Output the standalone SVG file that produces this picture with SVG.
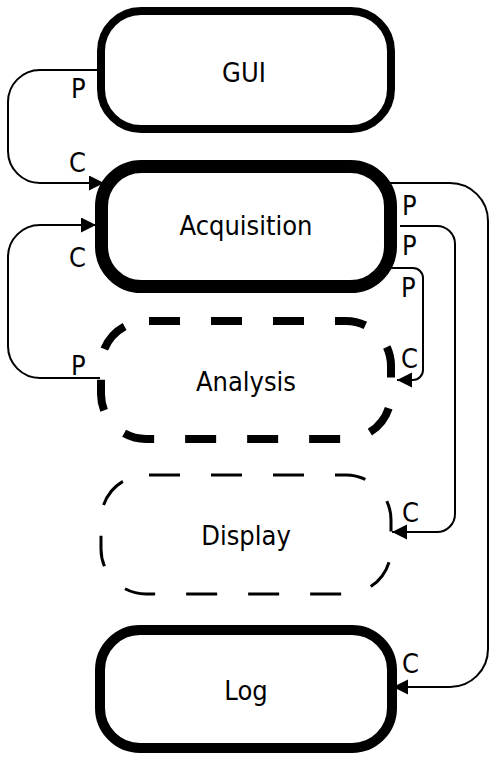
<svg xmlns="http://www.w3.org/2000/svg" width="498" height="760" viewBox="0 0 498 760">
<style>
.node{fill:#fff;stroke:#000}
.lbl{font-family:"DejaVu Sans Condensed","DejaVu Sans",Verdana,sans-serif;font-stretch:condensed;font-size:27px;fill:#000}
.ntext{font-family:"DejaVu Sans Condensed","DejaVu Sans",Verdana,sans-serif;font-stretch:condensed;font-size:27px;fill:#000;text-anchor:middle}
.conn{fill:none;stroke:#000;stroke-width:2}
</style>
<defs>
<marker id="arr" markerUnits="userSpaceOnUse" markerWidth="16" markerHeight="16" refX="15" refY="7.5" orient="auto">
<path d="M0,0 L15,7.5 L0,15 z" fill="#000"/>
</marker>
</defs>
<rect width="498" height="760" fill="#fff"/>
<g id="GUI">
<rect class="node" x="101" y="11" width="290" height="118" rx="40" ry="40" stroke-width="8"/>
<text class="ntext" x="244" y="82">GUI</text>
</g>
<g id="Acquisition">
<rect class="node" x="101.5" y="166.5" width="289" height="120" rx="40" ry="40" stroke-width="13"/>
<text class="ntext" x="246" y="235">Acquisition</text>
</g>
<g id="Analysis">
<rect class="node" x="101" y="321" width="290" height="118" rx="45" ry="45" stroke-width="8" stroke-dasharray="31 31" stroke-dashoffset="-3"/>
<text class="ntext" x="246" y="391">Analysis</text>
</g>
<g id="Display">
<rect class="node" x="101" y="475" width="290" height="119" rx="45" ry="45" stroke-width="3" stroke-dasharray="31 31" stroke-dashoffset="-3"/>
<text class="ntext" x="246" y="545">Display</text>
</g>
<g id="Log">
<rect class="node" x="100" y="630" width="292" height="118" rx="40" ry="40" stroke-width="10"/>
<text class="ntext" x="246" y="700">Log</text>
</g>
<g id="connectors">
<path class="conn" d="M97,70 H40 A32,32 0 0 0 8,102 V151 A32,32 0 0 0 40,183 H104" marker-end="url(#arr)"/>
<path class="conn" d="M100,378 H40 A32,32 0 0 1 8,346 V257 A32,32 0 0 1 40,225 H96" marker-end="url(#arr)"/>
<path class="conn" d="M388,183 H450 A38,38 0 0 1 488,221 V649 A38,38 0 0 1 450,687 H393" marker-end="url(#arr)"/>
<path class="conn" d="M400,226 H437 A18,18 0 0 1 455,244 V514 A18,18 0 0 1 437,532 H392" marker-end="url(#arr)"/>
<path class="conn" d="M388,268 H413 A10,10 0 0 1 423,278 V370 A10,10 0 0 1 413,380 H397" marker-end="url(#arr)"/>
<text class="lbl" x="71" y="98">P</text>
<text class="lbl" x="69" y="172">C</text>
<text class="lbl" x="69" y="267">C</text>
<text class="lbl" x="71" y="375">P</text>
<text class="lbl" x="402" y="215">P</text>
<text class="lbl" x="402" y="255">P</text>
<text class="lbl" x="401" y="297">P</text>
<text class="lbl" x="401" y="368">C</text>
<text class="lbl" x="402" y="522">C</text>
<text class="lbl" x="402" y="673">C</text>
</g>
</svg>
